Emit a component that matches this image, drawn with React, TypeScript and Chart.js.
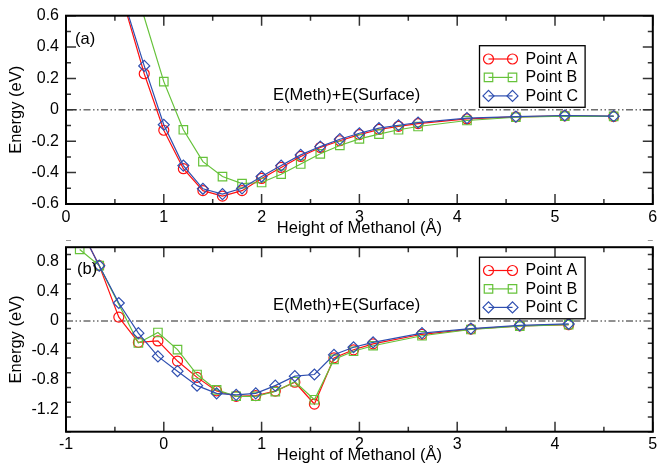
import React, { useEffect, useRef } from 'react';
import { Chart, registerables } from 'chart.js';

Chart.register(...registerables);

// ---------- data ----------
const seriesNames = ['Point A', 'Point B', 'Point C'];

// panel (a)
const heightsTopAC = [0.6, 0.8, 1.0, 1.2, 1.4, 1.6, 1.8, 2.0, 2.2, 2.4, 2.6, 2.8, 3.0, 3.2, 3.4, 3.6, 4.1, 4.6, 5.1, 5.6];
const heightsTopB = [0.6, 1.0, 1.2, 1.4, 1.6, 1.8, 2.0, 2.2, 2.4, 2.6, 2.8, 3.0, 3.2, 3.4, 3.6, 4.1, 4.6, 5.1, 5.6];
const energyTopA = [0.66, 0.23, -0.13, -0.375, -0.515, -0.55, -0.515, -0.437, -0.367, -0.297, -0.24, -0.197, -0.158, -0.125, -0.105, -0.088, -0.058, -0.045, -0.038, -0.042];
const energyTopB = [1.0, 0.18, -0.127, -0.33, -0.425, -0.47, -0.463, -0.41, -0.345, -0.28, -0.227, -0.185, -0.155, -0.127, -0.106, -0.068, -0.047, -0.04, -0.042];
const energyTopC = [0.68, 0.28, -0.095, -0.355, -0.503, -0.537, -0.5, -0.425, -0.355, -0.287, -0.234, -0.187, -0.149, -0.117, -0.098, -0.081, -0.053, -0.043, -0.036, -0.04];

// panel (b)
const heightsBottomAC = [-0.86, -0.66, -0.46, -0.26, -0.06, 0.14, 0.34, 0.54, 0.74, 0.94, 1.14, 1.34, 1.54, 1.74, 1.94, 2.14, 2.64, 3.14, 3.64, 4.14];
const heightsBottomB = [-0.86, -0.66, -0.26, -0.06, 0.14, 0.34, 0.54, 0.74, 0.94, 1.14, 1.34, 1.54, 1.74, 1.94, 2.14, 2.64, 3.14, 3.64, 4.14];
const energyBottomA = [1.27, 0.75, 0.053, -0.29, -0.27, -0.543, -0.764, -0.947, -1.02, -1.01, -0.95, -0.83, -1.125, -0.5, -0.39, -0.31, -0.18, -0.11, -0.065, -0.05];
const energyBottomB = [0.97, 0.75, -0.298, -0.156, -0.387, -0.725, -0.933, -1.02, -1.02, -0.956, -0.823, -1.067, -0.52, -0.41, -0.335, -0.2, -0.115, -0.07, -0.05];
const energyBottomC = [1.27, 0.75, 0.244, -0.165, -0.48, -0.68, -0.876, -0.98, -1.0, -0.98, -0.876, -0.747, -0.725, -0.458, -0.356, -0.29, -0.165, -0.103, -0.058, -0.04];

const xTicksTop = [0, 1, 2, 3, 4, 5, 6];
const yTicksTop = [-0.6, -0.4, -0.2, 0, 0.2, 0.4, 0.6];
const xTicksBottom = [-1, 0, 1, 2, 3, 4, 5];
const yTicksBottom = [-1.2, -0.8, -0.4, 0, 0.4, 0.8];

const refLabel = 'E(Meth)+E(Surface)';
const xTitle = 'Height of Methanol (Å)';
const yTitle = 'Energy (eV)';

// ---------- styles ----------
const FONT = '"Liberation Sans", Arial, Helvetica, sans-serif';
const STYLES = [
  { color: '#ff1010', pointStyle: 'circle', radius: 5 },
  { color: '#66c23a', pointStyle: 'rect', radius: 6 },
  { color: '#2f4fb0', pointStyle: 'rectRot', radius: 5.5 },
];

Chart.defaults.font.family = FONT;
Chart.defaults.color = '#000';

function drawMarker(ctx: CanvasRenderingContext2D, style: string, x: number, y: number, r: number) {
  ctx.beginPath();
  if (style === 'circle') {
    ctx.arc(x, y, r, 0, Math.PI * 2);
  } else if (style === 'rect') {
    const s = Math.SQRT1_2 * r;
    ctx.rect(x - s, y - s, 2 * s, 2 * s);
  } else {
    ctx.moveTo(x - r, y);
    ctx.lineTo(x, y - r);
    ctx.lineTo(x + r, y);
    ctx.lineTo(x, y + r);
    ctx.closePath();
  }
  ctx.stroke();
}

function range(min: number, max: number, step: number) {
  const out: number[] = [];
  const n = Math.round((max - min) / step);
  for (let i = 0; i <= n; i++) out.push(Math.round((min + i * step) * 1000) / 1000);
  return out;
}

const panelPlugin = {
  id: 'panelDeco',
  beforeDatasetsDraw(chart: any, _args: any, opts: any) {
    const { ctx, chartArea } = chart;
    const ys = chart.scales.y;
    const y0 = ys.getPixelForValue(0);
    ctx.save();
    ctx.strokeStyle = '#222';
    ctx.lineWidth = 1;
    ctx.setLineDash([7, 2.5, 1.5, 2.5, 1.5, 2.5]);
    ctx.beginPath();
    ctx.moveTo(chartArea.left, y0);
    ctx.lineTo(chartArea.right, y0);
    ctx.stroke();
    ctx.restore();
  },
  afterDatasetsDraw(chart: any, _args: any, opts: any) {
    const { ctx, chartArea } = chart;
    const xs = chart.scales.x;
    const ys = chart.scales.y;
    const { left, right, top, bottom } = chartArea;
    ctx.save();
    // ticks (inward, all four sides)
    ctx.strokeStyle = '#333';
    ctx.lineWidth = 1.5;
    const majL = 10, minL = 5;
    const xMaj: number[] = opts.xTicks;
    const yMaj: number[] = opts.yTicks;
    range(xs.min, xs.max, opts.xMinor).forEach((v) => {
      const len = xMaj.some((m) => Math.abs(m - v) < 1e-6) ? majL : minL;
      const px = xs.getPixelForValue(v);
      ctx.beginPath();
      ctx.moveTo(px, bottom);
      ctx.lineTo(px, bottom - len);
      ctx.moveTo(px, top);
      ctx.lineTo(px, top + len);
      ctx.stroke();
    });
    range(ys.min, ys.max, opts.yMinor).forEach((v) => {
      const len = yMaj.some((m) => Math.abs(m - v) < 1e-6) ? majL : minL;
      const py = ys.getPixelForValue(v);
      ctx.beginPath();
      ctx.moveTo(left, py);
      ctx.lineTo(left + len, py);
      ctx.moveTo(right, py);
      ctx.lineTo(right - len, py);
      ctx.stroke();
    });
    // frame
    ctx.strokeStyle = '#000';
    ctx.lineWidth = 2;
    ctx.strokeRect(left, top, right - left, bottom - top);

    // texts
    ctx.fillStyle = '#000';
    ctx.font = '16.5px ' + FONT;
    ctx.textBaseline = 'middle';
    ctx.textAlign = 'left';
    ctx.fillText(opts.panelLabel, left + opts.panelDx, top + opts.panelDy);
    ctx.textAlign = 'center';
    ctx.fillText(refLabel, xs.getPixelForValue(opts.refX), ys.getPixelForValue(opts.refY));

    // legend
    const bw = 105.6, bh = 61.6;
    const bx = right - opts.legendRight - bw;
    const by = top + opts.legendTop;
    ctx.fillStyle = '#fff';
    ctx.fillRect(bx, by, bw, bh);
    ctx.strokeStyle = '#000';
    ctx.lineWidth = 1.3;
    ctx.strokeRect(bx, by, bw, bh);
    const rows = [13.3, 31.7, 50.2];
    ctx.textAlign = 'left';
    ctx.font = '16px ' + FONT;
    seriesNames.forEach((name, i) => {
      const st = STYLES[i];
      const ry = by + rows[i];
      const m1 = bx + 9, m2 = bx + 33;
      ctx.strokeStyle = st.color;
      ctx.lineWidth = 1.2;
      ctx.beginPath();
      ctx.moveTo(m1, ry);
      ctx.lineTo(m2, ry);
      ctx.stroke();
      drawMarker(ctx, st.pointStyle, m1, ry, st.radius);
      drawMarker(ctx, st.pointStyle, m2, ry, st.radius);
      ctx.fillStyle = '#000';
      ctx.fillText(name, bx + 46, ry + 0.5);
    });
    ctx.restore();
  },
};

type PanelProps = {
  width: number;
  height: number;
  padTop: number;
  xAxisH: number;
  xs: number[][];
  ys: number[][];
  xMin: number; xMax: number; yMin: number; yMax: number;
  xTicks: number[]; yTicks: number[];
  xMinor: number; yMinor: number;
  panelLabel: string; panelDx: number; panelDy: number;
  refX: number; refY: number;
  legendRight: number; legendTop: number;
};

function Panel(p: PanelProps) {
  const ref = useRef<HTMLCanvasElement | null>(null);
  useEffect(() => {
    if (!ref.current) return;
    const datasets = seriesNames.map((name, i) => ({
      label: name,
      data: p.xs[i].map((x, j) => ({ x, y: p.ys[i][j] })),
      borderColor: STYLES[i].color,
      backgroundColor: 'transparent',
      borderWidth: 1.2,
      pointStyle: STYLES[i].pointStyle as any,
      pointRadius: STYLES[i].radius,
      pointBorderWidth: 1.2,
      pointBorderColor: STYLES[i].color,
      pointBackgroundColor: 'transparent',
      tension: 0,
      fill: false,
      order: 2 - i,
    }));
    const chart = new Chart(ref.current, {
      type: 'line',
      data: { datasets },
      plugins: [panelPlugin],
      options: {
        responsive: false,
        maintainAspectRatio: false,
        animation: false,
        events: [],
        layout: { padding: { top: p.padTop, right: 5, left: 0, bottom: 0 } },
        plugins: {
          legend: { display: false },
          tooltip: { enabled: false },
          panelDeco: {
            xTicks: p.xTicks, yTicks: p.yTicks, xMinor: p.xMinor, yMinor: p.yMinor,
            panelLabel: p.panelLabel, panelDx: p.panelDx, panelDy: p.panelDy,
            refX: p.refX, refY: p.refY, legendRight: p.legendRight, legendTop: p.legendTop,
          },
        } as any,
        scales: {
          x: {
            type: 'linear',
            min: p.xMin,
            max: p.xMax,
            grid: { display: false, drawTicks: false },
            border: { display: false },
            ticks: {
              padding: 3.5,
              font: { size: 16 },
              color: '#000',
              callback: (v: any) => String(Math.round(Number(v))),
            },
            afterBuildTicks: (s: any) => { s.ticks = p.xTicks.map((v) => ({ value: v })); },
            afterFit: (s: any) => { s.height = p.xAxisH; s.paddingLeft = 0; s.paddingRight = 0; },
            title: { display: true, text: xTitle, color: '#000', font: { size: 16.5 }, padding: { top: 0, bottom: 1.2 } },
          },
          y: {
            type: 'linear',
            min: p.yMin,
            max: p.yMax,
            grid: { display: false, drawTicks: false },
            border: { display: false },
            ticks: {
              padding: 7,
              font: { size: 16 },
              color: '#000',
              callback: (v: any) => (Math.abs(Number(v)) < 1e-9 ? '0' : Number(v).toFixed(1)),
            },
            afterBuildTicks: (s: any) => { s.ticks = p.yTicks.map((v) => ({ value: v })); },
            afterFit: (s: any) => { s.width = 66; s.paddingTop = 0; s.paddingBottom = 0; },
            title: { display: true, text: yTitle, color: '#000', font: { size: 16.5 }, padding: { top: 6.6, bottom: 0 } },
          },
        },
      } as any,
    });
    return () => chart.destroy();
  }, []);
  return (
    <canvas
      ref={ref}
      width={p.width}
      height={p.height}
      style={{ display: 'block', width: p.width, height: p.height }}
    />
  );
}

export default function App() {
  return (
    <div style={{ position: 'absolute', left: 0, top: 0, width: 660, height: 467, background: '#fff' }}>
      <Panel
        width={660}
        height={240}
        padTop={15.7}
        xAxisH={36}
        xs={[heightsTopAC, heightsTopB, heightsTopAC]}
        ys={[energyTopA, energyTopB, energyTopC]}
        xMin={0} xMax={6} yMin={-0.6} yMax={0.6}
        xTicks={xTicksTop} yTicks={yTicksTop}
        xMinor={0.5} yMinor={0.1}
        panelLabel="(a)" panelDx={9} panelDy={24}
        refX={2.87} refY={0.09}
        legendRight={67.7} legendTop={30}
      />
      <Panel
        width={660}
        height={227}
        padTop={3.3}
        xAxisH={35.3}
        xs={[heightsBottomAC, heightsBottomB, heightsBottomAC]}
        ys={[energyBottomA, energyBottomB, energyBottomC]}
        xMin={-1} xMax={5} yMin={-1.5} yMax={1.0}
        xTicks={xTicksBottom} yTicks={yTicksBottom}
        xMinor={0.5} yMinor={0.2}
        panelLabel="(b)" panelDx={11} panelDy={22}
        refX={1.87} refY={0.21}
        legendRight={67.7} legendTop={10}
      />
    </div>
  );
}
